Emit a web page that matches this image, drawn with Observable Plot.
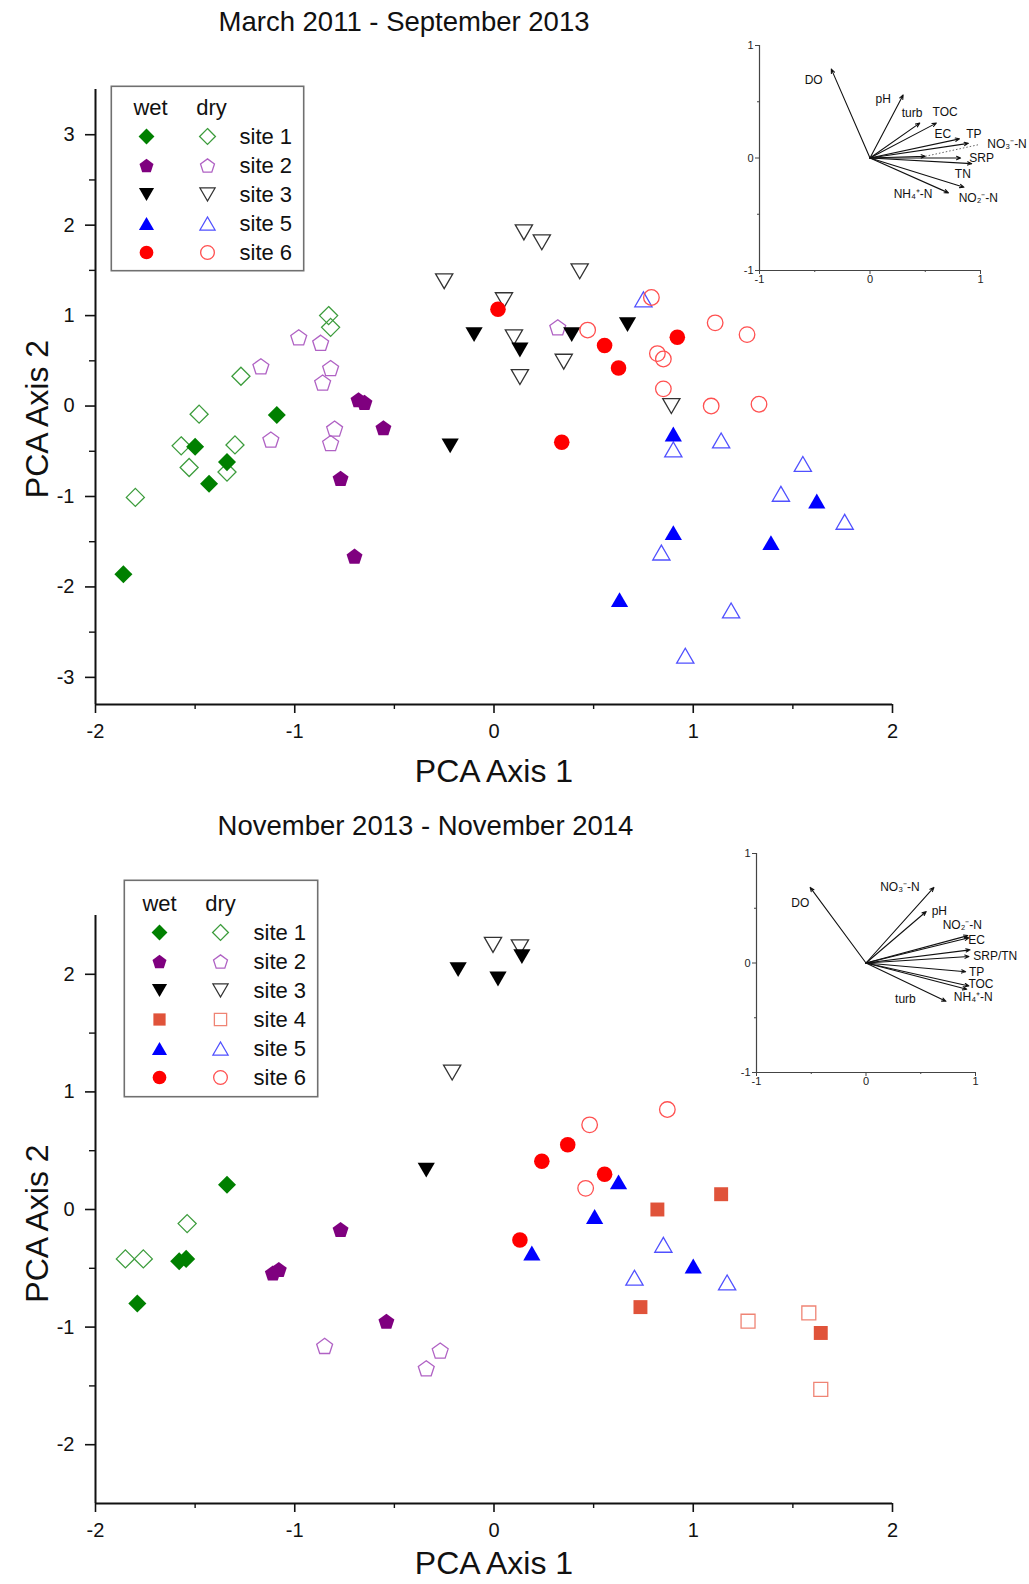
<!DOCTYPE html>
<html><head><meta charset="utf-8">
<script src="https://cdn.jsdelivr.net/npm/d3@7"></script>
<script src="https://cdn.jsdelivr.net/npm/@observablehq/plot@0.6"></script>
<style>
body{margin:0;background:#fff;font-family:"Liberation Sans",Arial,Helvetica,sans-serif;}
#page{position:relative;width:1029px;height:1584px;overflow:hidden;background:#fff;}
.ttl{position:absolute;text-align:center;font-size:27.5px;line-height:32px;color:#111;}
svg.main g[aria-label="x-axis label"], svg.main g[aria-label="y-axis label"]{font-size:32px;}
svg.main g[aria-label="x-axis tick label"], svg.main g[aria-label="y-axis tick label"]{font-size:20px;}
</style></head><body><div id="page"></div><script>
// ---------------- data ----------------
const xDomain = [-2, 2];
const xTicks = [-2, -1, 0, 1, 2];
const xMinorTicks = [-1.5, -0.5, 0.5, 1.5];
const topYDomain = [-3.3, 3.5];
const topYTicks = [-3, -2, -1, 0, 1, 2, 3];
const topYMinor = [-2.5, -1.5, -0.5, 0.5, 1.5, 2.5];
const botYDomain = [-2.5, 2.5];
const botYTicks = [-2, -1, 0, 1, 2];
const botYMinor = [-1.5, -0.5, 0.5, 1.5];
const insetDomain = [-1, 1];
const insetTicks = [-1, 0, 1];
const insetMinor = [-0.5, 0.5];

const topTitle = "March 2011 - September 2013";
const botTitle = "November 2013 - November 2014";
const xLabel = "PCA Axis 1";
const yLabel = "PCA Axis 2";

// March 2011 - September 2013 scores [PCA1, PCA2]
const top_site1_wet = [[-1.09,-0.10],[-1.50,-0.45],[-1.34,-0.62],[-1.43,-0.86],[-1.86,-1.86]];
const top_site1_dry = [[-0.83,1.00],[-0.82,0.87],[-1.27,0.33],[-1.48,-0.09],[-1.57,-0.44],[-1.30,-0.43],[-1.53,-0.68],[-1.34,-0.73],[-1.80,-1.01]];
const top_site2_wet = [[-0.68,0.07],[-0.65,0.04],[-0.555,-0.24],[-0.77,-0.80],[-0.70,-1.66]];
const top_site2_dry = [[-0.98,0.76],[-0.87,0.70],[-1.17,0.44],[-0.82,0.42],[-0.86,0.26],[0.32,0.87],[-0.80,-0.25],[-0.82,-0.41],[-1.12,-0.37]];
const top_site3_wet = [[-0.10,0.79],[0.13,0.62],[0.39,0.79],[0.67,0.90],[-0.22,-0.44]];
const top_site3_dry = [[0.15,1.92],[0.24,1.81],[0.43,1.49],[-0.25,1.38],[0.05,1.17],[0.10,0.76],[0.35,0.49],[0.13,0.32],[0.89,0.00]];
const top_site5_wet = [[0.90,-0.31],[1.62,-1.05],[0.90,-1.40],[1.39,-1.51],[0.63,-2.14]];
const top_site5_dry = [[0.75,1.18],[0.90,-0.48],[1.14,-0.38],[1.55,-0.64],[1.44,-0.97],[1.76,-1.28],[0.84,-1.62],[1.19,-2.26],[0.96,-2.76]];
const top_site6_wet = [[0.02,1.07],[0.555,0.67],[0.92,0.76],[0.625,0.42],[0.34,-0.40]];
const top_site6_dry = [[0.47,0.84],[0.79,1.20],[1.11,0.92],[1.27,0.79],[0.82,0.58],[0.85,0.52],[0.85,0.19],[1.09,0.00],[1.33,0.02]];

// November 2013 - November 2014 scores
const bot_site1_wet = [[-1.34,0.21],[-1.545,-0.42],[-1.58,-0.44],[-1.79,-0.80]];
const bot_site1_dry = [[-1.54,-0.12],[-1.85,-0.42],[-1.76,-0.42]];
const bot_site2_wet = [[-0.77,-0.17],[-1.11,-0.54],[-1.08,-0.51],[-0.54,-0.95]];
const bot_site2_dry = [[-0.85,-1.16],[-0.27,-1.20],[-0.34,-1.35]];
const bot_site3_wet = [[-0.18,2.04],[0.02,1.96],[0.14,2.15],[-0.34,0.335]];
const bot_site3_dry = [[-0.005,2.25],[0.13,2.23],[-0.21,1.165]];
const bot_site4_wet = [[1.14,0.13],[0.82,0.00],[0.735,-0.83],[1.64,-1.05]];
const bot_site4_dry = [[1.275,-0.95],[1.58,-0.88],[1.64,-1.53]];
const bot_site5_wet = [[0.625,0.235],[0.505,-0.06],[0.19,-0.37],[1.00,-0.48]];
const bot_site5_dry = [[0.85,-0.30],[0.705,-0.58],[1.17,-0.62]];
const bot_site6_wet = [[0.37,0.55],[0.24,0.41],[0.555,0.30],[0.13,-0.26]];
const bot_site6_dry = [[0.87,0.85],[0.48,0.72],[0.46,0.18]];

// loadings (insets)
const topVars   = ["DO","pH","turb","TOC","EC","TP","NO₃⁻-N","SRP","TN","NO₂⁻-N","NH₄⁺-N"];
const topLoadX  = [-0.35,0.30,0.45,0.60,0.81,0.89,0.50,0.82,0.92,0.85,0.71];
const topLoadY  = [0.79,0.56,0.31,0.31,0.17,0.13,0.015,0.00,-0.05,-0.26,-0.31];
const topLabX   = [-0.51,0.12,0.38,0.68,0.66,0.94,1.24,1.01,0.84,0.98,0.39];
const topLabY   = [0.69,0.52,0.40,0.41,0.21,0.21,0.12,0.00,-0.14,-0.36,-0.32];

const botVars   = ["DO","NO₃⁻-N","pH","NO₂⁻-N","EC","SRP/TN","","TP","TOC","NH₄⁺-N","turb"];
const botLoadX  = [-0.51,0.62,0.55,0.93,0.94,0.95,0.94,0.91,0.94,0.92,0.73];
const botLoadY  = [0.69,0.69,0.47,0.25,0.23,0.12,0.06,-0.08,-0.21,-0.24,-0.35];
const botLabX   = [-0.60,0.31,0.67,0.88,1.01,1.18,0.0,1.01,1.05,0.98,0.36];
const botLabY   = [0.55,0.69,0.47,0.35,0.21,0.06,0.0,-0.08,-0.195,-0.31,-0.33];

const topSites = ["site 1","site 2","site 3","site 5","site 6"];
const botSites = ["site 1","site 2","site 3","site 4","site 5","site 6"];
const legendCols = ["wet","dry"];

// ---------------- styles ----------------
const FONT = '"Liberation Sans", Arial, Helvetica, sans-serif';
const Rr = s => Math.sqrt(s / Math.PI);
const sym = {
  diamond: {draw(c, s){const r = Rr(s)*1.1; c.moveTo(0,-r); c.lineTo(r,0); c.lineTo(0,r); c.lineTo(-r,0); c.closePath();}},
  pentagon: {draw(c, s){const r = Rr(s)*1.02; for (let i = 0; i < 5; i++){const a = -Math.PI/2 + i*2*Math.PI/5; const x = r*Math.cos(a), y = r*Math.sin(a) + r*0.095; if (i) c.lineTo(x,y); else c.moveTo(x,y);} c.closePath();}},
  triDown: {draw(c, s){const w = Rr(s)*2.1, h = w*0.866; c.moveTo(-w/2,-h/2); c.lineTo(w/2,-h/2); c.lineTo(0,h/2); c.closePath();}},
  triUp: {draw(c, s){const w = Rr(s)*2.1, h = w*0.866; c.moveTo(-w/2,h/2); c.lineTo(w/2,h/2); c.lineTo(0,-h/2); c.closePath();}},
  square: {draw(c, s){const a = Rr(s)*0.85; c.moveTo(-a,-a); c.lineTo(a,-a); c.lineTo(a,a); c.lineTo(-a,a); c.closePath();}},
  circle: {draw(c, s){const r = Rr(s)*0.95; c.moveTo(r,0); c.arc(0,0,r,0,2*Math.PI);}}
};
const siteStyle = {
  "site 1": {symbol: "diamond",  fill: "#008000", open: "#3c9c3c"},
  "site 2": {symbol: "pentagon", fill: "#7f007f", open: "#b062c4"},
  "site 3": {symbol: "triDown",  fill: "#000000", open: "#333333"},
  "site 4": {symbol: "square",   fill: "#e0533a", open: "#ef8474"},
  "site 5": {symbol: "triUp",    fill: "#0000ff", open: "#5050ff"},
  "site 6": {symbol: "circle",   fill: "#ff0000", open: "#ff5050"}
};

const topSeries = [
  {site:"site 1", wet: top_site1_wet, dry: top_site1_dry},
  {site:"site 2", wet: top_site2_wet, dry: top_site2_dry},
  {site:"site 3", wet: top_site3_wet, dry: top_site3_dry},
  {site:"site 5", wet: top_site5_wet, dry: top_site5_dry},
  {site:"site 6", wet: top_site6_wet, dry: top_site6_dry}
];
const botSeries = [
  {site:"site 1", wet: bot_site1_wet, dry: bot_site1_dry},
  {site:"site 2", wet: bot_site2_wet, dry: bot_site2_dry},
  {site:"site 3", wet: bot_site3_wet, dry: bot_site3_dry},
  {site:"site 4", wet: bot_site4_wet, dry: bot_site4_dry},
  {site:"site 5", wet: bot_site5_wet, dry: bot_site5_dry},
  {site:"site 6", wet: bot_site6_wet, dry: bot_site6_dry}
];

const page = document.getElementById("page");
function place(el, left, top){ el.style.position = "absolute"; el.style.left = left + "px"; el.style.top = top + "px"; page.appendChild(el); return el; }
function title(text, left, width, top){ const d = document.createElement("div"); d.className = "ttl"; d.textContent = text; d.style.width = width + "px"; place(d, left, top); }
const fmt = d => String(d);

function siteMarks(series){
  return series.flatMap(({site, wet, dry}) => {
    const st = siteStyle[site];
    return [
      Plot.dot(dry, {x: d => d[0], y: d => d[1], symbol: sym[st.symbol], r: 8.2, fill: "none", stroke: st.open, strokeWidth: 1.3}),
      Plot.dot(wet, {x: d => d[0], y: d => d[1], symbol: sym[st.symbol], r: 8.2, fill: st.fill, stroke: "none"})
    ];
  });
}

function mainChart(series, yDomain, yTicks, yMinor, o){
  const svg = Plot.plot({
    width: 1029, height: o.height,
    marginLeft: 95, marginRight: 137, marginTop: o.mt, marginBottom: o.mb,
    x: {domain: xDomain}, y: {domain: yDomain},
    style: {fontFamily: FONT, fontSize: "20px", color: "#111", background: "transparent", overflow: "visible"},
    marks: [
      Plot.axisX({ticks: xTicks, tickSize: 9, tickPadding: 10, tickFormat: fmt, strokeWidth: 1.6, label: xLabel, labelArrow: "none", labelAnchor: "center", labelOffset: o.xlo}),
      Plot.axisX({ticks: xMinorTicks, tickSize: 5, tickFormat: () => "", strokeWidth: 1.4, label: null}),
      Plot.axisY({ticks: yTicks, tickSize: 10, tickPadding: 11, tickFormat: fmt, strokeWidth: 1.6, label: yLabel, labelArrow: "none", labelAnchor: "center", labelOffset: o.ylo}),
      Plot.axisY({ticks: yMinor, tickSize: 6, tickFormat: () => "", strokeWidth: 1.4, label: null}),
      Plot.ruleX([xDomain[0]], {stroke: "#111", strokeWidth: 2}),
      Plot.ruleY([yDomain[0]], {stroke: "#111", strokeWidth: 2}),
      ...siteMarks(series)
    ]
  });
  svg.classList.add("main");
  const g = svg.querySelector('g[aria-label="y-axis label"]');
  if (g) g.setAttribute("transform", ((g.getAttribute("transform") || "") + ` translate(0,${o.yShift})`).trim());
  return svg;
}

function legend(sites, w, h, xRange, yRange, labelDx, hdrDx){
  return Plot.plot({
    width: w, height: h, margin: 0,
    x: {type: "point", domain: legendCols, range: xRange, padding: 0, axis: null},
    y: {type: "point", domain: ["hdr", ...sites], range: yRange, padding: 0, axis: null},
    style: {fontFamily: FONT, fontSize: "22px", color: "#111", background: "white", overflow: "visible"},
    marks: [
      Plot.frame({fill: "white", stroke: "#707070", strokeWidth: 1.6, inset: 0.8}),
      Plot.text(legendCols, {x: d => d, y: () => "hdr", dx: hdrDx, text: d => d, fontSize: 22, fill: "#111"}),
      ...sites.flatMap(s => {
        const st = siteStyle[s];
        return [
          Plot.dot([s], {x: () => "wet", y: d => d, symbol: sym[st.symbol], r: 7.2, fill: st.fill, stroke: "none"}),
          Plot.dot([s], {x: () => "dry", y: d => d, symbol: sym[st.symbol], r: 7.2, fill: "none", stroke: st.open, strokeWidth: 1.3})
        ];
      }),
      Plot.text(sites, {x: () => "dry", dx: labelDx, y: d => d, text: d => d, textAnchor: "start", fontSize: 22, fill: "#111"})
    ]
  });
}

function inset(names, lx, ly, tx, ty, o){
  const data = names.map((n, i) => ({name: n, x: lx[i], y: ly[i], tx: tx[i], ty: ty[i]}));
  const marks = [
    Plot.axisX({ticks: insetTicks, tickSize: 4, tickPadding: 1, tickFormat: fmt, stroke: "#444", label: null}),
    Plot.axisX({ticks: insetMinor, tickSize: 2, tickFormat: () => "", stroke: "#444", label: null}),
    Plot.axisY({ticks: insetTicks, tickSize: 4, tickPadding: 2, tickFormat: fmt, stroke: "#444", label: null}),
    Plot.axisY({ticks: insetMinor, tickSize: 2, tickFormat: () => "", stroke: "#444", label: null}),
    Plot.ruleX([insetDomain[0]], {stroke: "#444", strokeWidth: 1.2}),
    Plot.ruleY([insetDomain[0]], {stroke: "#444", strokeWidth: 1.2}),
    Plot.arrow(data, {x1: 0, y1: 0, x2: "x", y2: "y", stroke: "#111", strokeWidth: 1.1, headLength: 6, headAngle: 45}),
    Plot.text(data.filter(d => d.name), {x: "tx", y: "ty", text: "name", fontSize: 12, fill: "#111"})
  ];
  if (o.leader) {
    const d = data.find(d => d.name === o.leader);
    marks.push(Plot.link([d], {x1: "x", y1: "y", x2: dd => dd.tx - 0.25, y2: "ty", stroke: "#666", strokeDasharray: "1.5,2", strokeWidth: 1}));
  }
  return Plot.plot({
    width: o.w, height: o.h, marginLeft: o.ml, marginRight: o.mr, marginTop: o.mt, marginBottom: o.mb,
    x: {domain: insetDomain}, y: {domain: insetDomain},
    style: {fontFamily: FONT, fontSize: "11px", color: "#222", background: "transparent", overflow: "visible"},
    marks
  });
}

// ---------------- layout ----------------
title(topTitle, 0, 808, 6);
place(mainChart(topSeries, topYDomain, topYTicks, topYMinor, {height: 740, mt: 39, mb: 86, xlo: 77, ylo: 70, yShift: 0}), 0, 50);
place(legend(topSites, 194, 186, [36, 97], [22, 167.5], 32, 4), 110, 85);
place(inset(topVars, topLoadX, topLoadY, topLabX, topLabY, {w: 300, h: 265, ml: 39, mr: 40, mt: 15, mb: 25, leader: "NO₃⁻-N"}), 720, 30);

title(botTitle, 0, 851, 810);
place(mainChart(botSeries, botYDomain, botYTicks, botYMinor, {height: 739, mt: 70, mb: 81, xlo: 70, ylo: 70, yShift: 0}), 0, 845);
place(legend(botSites, 195, 218, [36, 97], [23, 198], 33, 0), 123, 879);
place(inset(botVars, botLoadX, botLoadY, botLabX, botLabY, {w: 304, h: 260, ml: 40, mr: 45, mt: 15, mb: 26}), 716, 838);

// shift rotated y labels down to match the original placement
document.querySelectorAll("svg.main").forEach((svg, i) => {
  const g = svg.querySelector('g[aria-label="y-axis label"]');
  if (!g) return;
  const shift = i === 0 ? 22 : 14;
  g.querySelectorAll("text").forEach(t => {
    const tr = t.getAttribute("transform") || "";
    t.setAttribute("transform", `translate(0,${shift}) ${tr}`);
  });
});
</script></body></html>
